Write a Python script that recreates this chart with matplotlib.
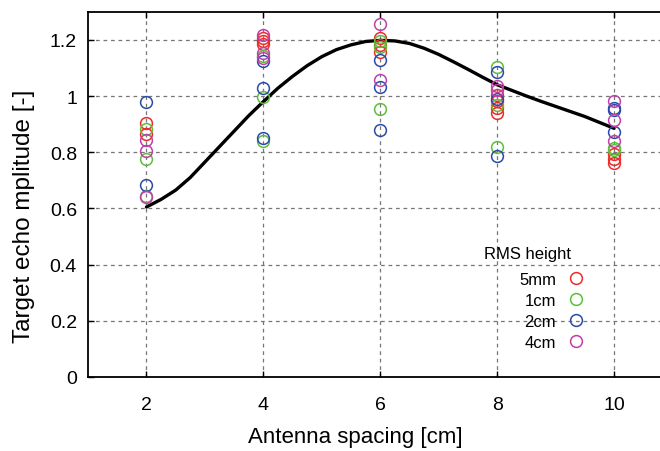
import numpy as np
import matplotlib.pyplot as plt

plt.rcParams['font.family'] = ['Liberation Sans', 'DejaVu Sans']

# Fitted trend of the echo amplitude against antenna spacing
curve_x = [2, 2.25, 2.5, 2.75, 3, 3.25, 3.5, 3.75, 4, 4.25, 4.5, 4.75, 5,
           5.25, 5.5, 5.75, 6, 6.25, 6.5, 6.75, 7, 7.25, 7.5, 7.75, 8,
           8.25, 8.5, 8.75, 9, 9.25, 9.5, 9.75, 10]
curve_y = [0.605, 0.632, 0.665, 0.71, 0.765, 0.82, 0.875, 0.93, 0.98, 1.028,
           1.07, 1.108, 1.14, 1.165, 1.182, 1.194, 1.198, 1.196, 1.187, 1.17,
           1.148, 1.122, 1.095, 1.067, 1.04, 1.02, 1.0, 0.981, 0.963, 0.945,
           0.927, 0.906, 0.885]

# Measured amplitudes per RMS surface height
spacing_5mm = [2, 2, 4, 4, 4, 6, 6, 6, 8, 8, 8, 8, 10, 10, 10]
amp_5mm = [0.904, 0.863, 1.206, 1.194, 1.186, 1.206, 1.182, 1.158,
           1.005, 0.981, 0.957, 0.94, 0.795, 0.776, 0.762]

spacing_1cm = [2, 2, 2, 4, 4, 4, 6, 6, 6, 8, 8, 8, 10, 10]
amp_1cm = [0.883, 0.776, 0.644, 1.143, 0.996, 0.839, 1.194, 1.174, 0.955,
           1.103, 0.969, 0.819, 0.815, 0.807]

spacing_2cm = [2, 2, 4, 4, 4, 6, 6, 6, 8, 8, 8, 10, 10, 10]
amp_2cm = [0.977, 0.682, 1.123, 1.028, 0.851, 1.127, 1.032, 0.878,
           1.085, 0.989, 0.788, 0.957, 0.951, 0.872]

spacing_4cm = [2, 2, 2, 4, 4, 4, 6, 6, 8, 8, 10, 10, 10]
amp_4cm = [0.842, 0.803, 0.64, 1.218, 1.153, 1.135, 1.257, 1.058,
           1.037, 1.022, 0.981, 0.913, 0.841]

labels = ['5mm', '1cm', '2cm', '4cm']
colors = ['#ee2a2a', '#5cbf3a', '#2a4aaa', '#c040a8']

fig = plt.figure(figsize=(6.6, 4.52), dpi=100)
ax = fig.add_axes([88 / 660, 74 / 452, 584.5 / 660, 365.3 / 452])

ax.plot(curve_x, curve_y, color='black', lw=2.4, zorder=3,
        solid_capstyle='round', solid_joinstyle='round')

series = [(spacing_5mm, amp_5mm), (spacing_1cm, amp_1cm),
          (spacing_2cm, amp_2cm), (spacing_4cm, amp_4cm)]
for (xs, ys), lab, col in zip(series, labels, colors):
    ax.plot(xs, ys, linestyle='none', marker='o', ms=8.5, mfc='none',
            mec=col, mew=1.1, label=lab, zorder=4)

ax.set_xlim(1, 11)
ax.set_ylim(0, 1.3)
ax.set_xticks([2, 4, 6, 8, 10])
ax.set_yticks([0, 0.2, 0.4, 0.6, 0.8, 1.0, 1.2])
ax.set_yticklabels(['0', '0.2', '0.4', '0.6', '0.8', '1', '1.2'])
ax.tick_params(direction='in', length=4, width=1, labelsize=14,
               top=True, right=True, pad=8)
ax.tick_params(axis='x', pad=14)
ax.grid(True, color='#777777', linestyle=(0, (3, 3)), lw=0.9)
for sp in ax.spines.values():
    sp.set_linewidth(1.3)

ax.set_xlabel('Antenna spacing [cm]', fontsize=16)
ax.set_ylabel('Target echo mplitude [-]', fontsize=17.5)
ax.xaxis.set_label_coords(0.457, -0.135)
ax.yaxis.set_label_coords(-0.091, 0.443)

ax.legend(markerfirst=False, frameon=False, fontsize=12,
          loc='upper right', bbox_to_anchor=(586 / 660, 179 / 452),
          bbox_transform=fig.transFigure, labelspacing=0.36,
          handlelength=1.2, handletextpad=0.6, borderaxespad=0,
          borderpad=0)
fig.text(484 / 660, (452 - 255) / 452, 'RMS height', fontsize=12,
         ha='left', va='center')

fig.savefig('out.png', dpi=100)
